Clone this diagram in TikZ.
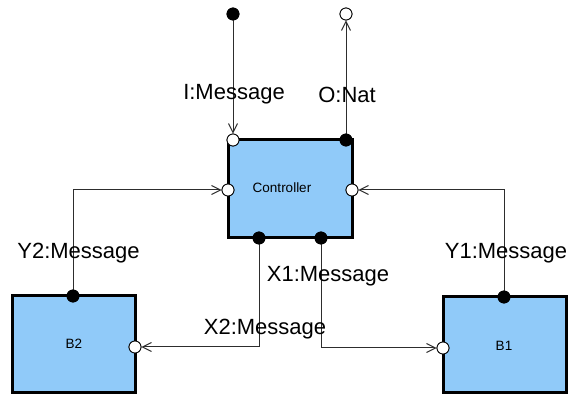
\documentclass[tikz,border=0pt]{standalone}
\usepackage{fontspec}
\setmainfont{Liberation Sans}
\usetikzlibrary{arrows.meta}
\definecolor{blockblue}{RGB}{144,202,249}
\definecolor{wire}{RGB}{45,45,45}
\tikzset{
  block/.style={draw=black, line width=3pt, fill=blockblue, inner sep=0pt,
    font=\fontsize{13.5}{16}\selectfont},
  inport/.style={circle, draw=black, line width=0.8pt, fill=white, inner sep=0pt, minimum size=12pt},
  outport/.style={circle, draw=black, line width=0.8pt, fill=black, inner sep=0pt, minimum size=12pt},
  wirestyle/.style={draw=wire, line width=1pt, -{Straight Barb[length=9pt,width=9pt,line width=1pt]}},
  lbl/.style={font=\fontsize{22}{25}\selectfont, inner sep=0pt}
}
\begin{document}
\begin{tikzpicture}[x=1pt,y=-1pt]
\useasboundingbox (0,0) rectangle (574,395);

% component blocks
\node[block, minimum width=124pt, minimum height=98pt] (ctrl) at (290,189) {};
\node[block, minimum width=123pt, minimum height=97pt] (b2) at (73.5,344.5) {};
\node[block, minimum width=123pt, minimum height=96pt] (b1) at (504.5,345) {};
\node[font=\fontsize{13.5}{16}\selectfont] (tctrl) at (282,188) {Controller};
\node[font=\fontsize{13.5}{16}\selectfont] (tb2) at (74,343.5) {B2};
\node[font=\fontsize{13.5}{16}\selectfont] (tb1) at (504,345.5) {B1};

% free terminals
\node[outport] (tin) at (233,14) {};
\node[inport] (tout) at (346,14) {};

% controller ports
\node[inport] (cin) at (233,140) {};
\node[outport] (cout) at (346,140) {};
\node[inport] (cy2) at (228,190) {};
\node[inport] (cy1) at (352,190) {};
\node[outport] (cx2) at (259,238) {};
\node[outport] (cx1) at (321,238) {};

% block ports
\node[outport] (b2y) at (73,296) {};
\node[inport] (b2x) at (135,347) {};
\node[outport] (b1y) at (504,297) {};
\node[inport] (b1x) at (443,348) {};

% connectors
\draw[wirestyle] (tin) -- (cin);
\draw[wirestyle] (cout) -- (tout);
\draw[wirestyle] (b2y) |- (cy2);
\draw[wirestyle] (b1y) |- (cy1);
\draw[wirestyle] (cx2) |- (b2x);
\draw[wirestyle] (cx1) |- (b1x);

% redraw ports on top of the wires
\foreach \p in {tin,cout,b2y,b1y,cx2,cx1}{\node[outport] at (\p) {};}
\foreach \p in {tout,cin,cy2,cy1,b2x,b1x}{\node[inport] at (\p) {};}

% connector labels
\node[lbl] (lI) at (234,94.5) {I:Message};
\node[lbl] (lO) at (347,95) {O:Nat};
\node[lbl] (lY2) at (78.5,253) {Y2:Message};
\node[lbl] (lY1) at (506,253) {Y1:Message};
\node[lbl] (lX1) at (328,276) {X1:Message};
\node[lbl] (lX2) at (265,329) {X2:Message};
\end{tikzpicture}
\end{document}
